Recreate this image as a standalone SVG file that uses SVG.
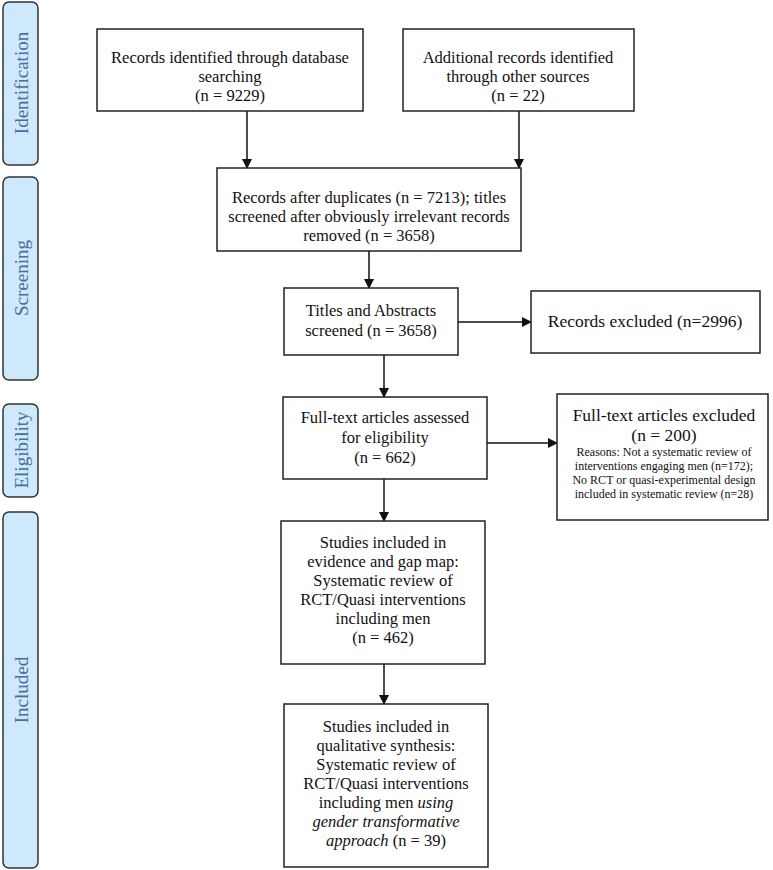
<svg xmlns="http://www.w3.org/2000/svg" width="773" height="870" viewBox="0 0 773 870">
<style>
.side{fill:#cde9fb;stroke:#333;stroke-width:1.5}
.sidet{font-family:"Liberation Serif","Times New Roman",serif;font-size:19px;fill:#4a6d9c;text-anchor:middle}
.box{fill:#fff;stroke:#222;stroke-width:1.5}
.t{font-family:"Liberation Serif","Times New Roman",serif;font-size:16.5px;fill:#111;text-anchor:middle}
.s{font-family:"Liberation Serif","Times New Roman",serif;font-size:12px;fill:#111;text-anchor:middle}
.c{stroke:#111;stroke-width:1.5;fill:none;marker-end:url(#ah)}
</style>
<defs>
<marker id="ah" markerWidth="10" markerHeight="10" refX="9" refY="5" orient="auto" markerUnits="userSpaceOnUse">
<path d="M0,0 L10,5 L0,10 Z" fill="#111"/>
</marker>
</defs>
<rect width="773" height="870" fill="#fff"/>
<g id="phase-identification">
<rect class="side" x="3" y="2" width="35" height="163" rx="6"/>
<text class="sidet" transform="translate(28,83) rotate(-90)">Identification</text>
</g>
<g id="phase-screening">
<rect class="side" x="3" y="177" width="35" height="203" rx="6"/>
<text class="sidet" transform="translate(28,278) rotate(-90)">Screening</text>
</g>
<g id="phase-eligibility">
<rect class="side" x="3" y="404" width="35" height="93" rx="6"/>
<text class="sidet" transform="translate(28,450) rotate(-90)">Eligibility</text>
</g>
<g id="phase-included">
<rect class="side" x="3" y="512" width="35" height="356" rx="6"/>
<text class="sidet" transform="translate(28,690) rotate(-90)">Included</text>
</g>
<g id="connectors">
<line class="c" x1="247" y1="111" x2="247" y2="168"/>
<line class="c" x1="519" y1="111" x2="519" y2="168"/>
<line class="c" x1="369" y1="251" x2="369" y2="288"/>
<line class="c" x1="458" y1="322" x2="531" y2="322"/>
<line class="c" x1="384" y1="355" x2="384" y2="397"/>
<line class="c" x1="487" y1="443" x2="557" y2="443"/>
<line class="c" x1="384" y1="479" x2="384" y2="521"/>
<line class="c" x1="384" y1="664" x2="384" y2="704"/>
</g>
<g id="db-records">
<rect class="box" x="97" y="29" width="266" height="82"/>
<text class="t" x="230" y="63">Records identified through database</text>
<text class="t" x="230" y="82">searching</text>
<text class="t" x="230" y="101">(n =  9229)</text>
</g>
<g id="other-records">
<rect class="box" x="403" y="29" width="231" height="82"/>
<text class="t" x="518" y="63">Additional records identified</text>
<text class="t" x="518" y="82">through other sources</text>
<text class="t" x="518" y="101">(n =  22)</text>
</g>
<g id="after-duplicates">
<rect class="box" x="217" y="168" width="304" height="83"/>
<text class="t" x="369" y="203">Records after duplicates (n = 7213); titles</text>
<text class="t" x="369" y="222">screened after obviously irrelevant records</text>
<text class="t" x="369" y="241">removed (n = 3658)</text>
</g>
<g id="titles-abstracts">
<rect class="box" x="284" y="288" width="174" height="67"/>
<text class="t" x="371" y="316">Titles and Abstracts</text>
<text class="t" x="371" y="336">screened (n = 3658)</text>
</g>
<g id="records-excluded">
<rect class="box" x="531" y="291" width="229" height="62"/>
<text class="t" x="645" y="327" style="font-size:17.5px">Records excluded (n=2996)</text>
</g>
<g id="fulltext-assessed">
<rect class="box" x="283" y="397" width="204" height="82"/>
<text class="t" x="385" y="423">Full-text articles assessed</text>
<text class="t" x="385" y="443">for eligibility</text>
<text class="t" x="385" y="463">(n = 662)</text>
</g>
<g id="fulltext-excluded">
<rect class="box" x="557" y="394" width="211" height="126"/>
<text class="t" x="664" y="421" style="font-size:17.5px">Full-text articles excluded</text>
<text class="t" x="664" y="441" style="font-size:17.5px">(n = 200)</text>
<text class="s" x="664" y="456">Reasons: Not a systematic review of</text>
<text class="s" x="664" y="470">interventions engaging men (n=172);</text>
<text class="s" x="664" y="484">No RCT or quasi-experimental design</text>
<text class="s" x="664" y="498">included in systematic review (n=28)</text>
</g>
<g id="evidence-gap-map">
<rect class="box" x="281" y="521" width="204" height="143"/>
<text class="t" x="383" y="548">Studies included in</text>
<text class="t" x="383" y="567">evidence and gap map:</text>
<text class="t" x="383" y="586">Systematic review of</text>
<text class="t" x="383" y="605">RCT/Quasi interventions</text>
<text class="t" x="383" y="624">including men</text>
<text class="t" x="383" y="643">(n = 462)</text>
</g>
<g id="qualitative-synthesis">
<rect class="box" x="284" y="704" width="204" height="163"/>
<text class="t" x="386" y="732">Studies included in</text>
<text class="t" x="386" y="751">qualitative synthesis:</text>
<text class="t" x="386" y="770">Systematic review of</text>
<text class="t" x="386" y="789">RCT/Quasi interventions</text>
<text class="t" x="386" y="808">including men <tspan font-style="italic">using</tspan></text>
<text class="t" x="386" y="827" font-style="italic">gender transformative</text>
<text class="t" x="386" y="846"><tspan font-style="italic">approach</tspan> (n = 39)</text>
</g>
</svg>
